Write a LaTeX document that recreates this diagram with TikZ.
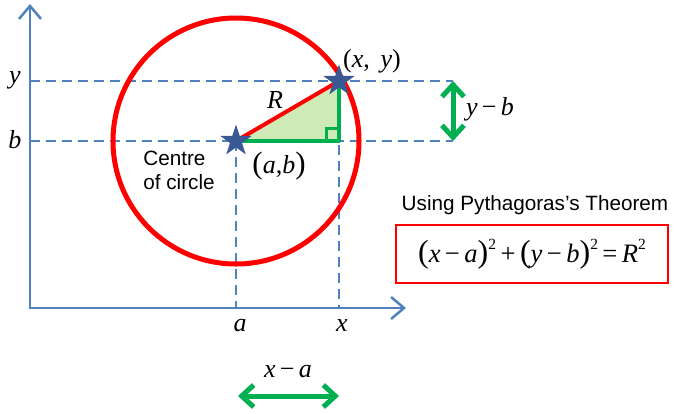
\documentclass[tikz,border=0pt]{standalone}
\usepackage{fontspec}
\setmainfont{Liberation Serif}
\setsansfont{Liberation Sans}
\usetikzlibrary{arrows.meta,shapes.geometric}
\definecolor{axisblue}{RGB}{79,129,189}
\definecolor{starblue}{RGB}{58,88,148}
\definecolor{grn}{RGB}{0,176,80}
\definecolor{lgrn}{RGB}{206,234,183}
\definecolor{cred}{RGB}{255,0,0}
\newcommand\myLP{{\fontsize{31}{31}\selectfont(}}
\newcommand\myRP{{\fontsize{31}{31}\selectfont)}}
\newcommand\fLP{{\fontsize{32}{32}\selectfont(}}
\newcommand\fRP{{\fontsize{32}{32}\selectfont)}}
\newcommand\fsq{\raisebox{0.5em}{\fontsize{15.5}{15.5}\selectfont 2}}
\begin{document}
\begin{tikzpicture}[x=1pt,y=-1pt,
  axis/.style={axisblue,line width=2.5pt,line join=miter,{Straight Barb[length=13pt,width=22pt]}-{Straight Barb[length=13pt,width=22pt]}},
  guide/.style={axisblue,line width=1.5pt,dash pattern=on 10pt off 6pt},
  gleg/.style={grn,line width=4pt},
  garrow/.style={grn,line width=5pt,{Straight Barb[length=12pt,width=22pt]}-{Straight Barb[length=12pt,width=22pt]}},
  ptstar/.style={star,star points=5,star point ratio=2.6,minimum size=33pt,fill=starblue,inner sep=0pt},
  lbl/.style={font=\fontsize{26}{26}\selectfont\itshape,inner sep=0pt},
  mlbl/.style={font=\fontsize{26}{26}\selectfont,inner sep=0pt},
  sans/.style={font=\fontsize{20.7}{24}\selectfont\sffamily,inner sep=0pt}
]
\useasboundingbox (0,0) rectangle (674,413);
% coordinates
\coordinate (O) at (30,308);
\coordinate (Ytop) at (30,4);
\coordinate (Xend) at (406,308);
\coordinate (A) at (236,141);
\coordinate (P) at (339,81);
\coordinate (C) at (339,141);
\coordinate (yl) at (30,81);
\coordinate (yr) at (453,81);
\coordinate (bl) at (30,141);
\coordinate (br) at (453,141);
\coordinate (aB) at (236,308);
\coordinate (xB) at (339,308);
\coordinate (sq1) at (326,141);
\coordinate (sq2) at (326,128);
\coordinate (sq3) at (339,128);
\coordinate (ha1) at (238,396);
\coordinate (ha2) at (339,396);
% guides
\draw[guide] (yl) -- (yr);
\draw[guide] (bl) -- (br);
\draw[guide] (A) -- (aB);
\draw[guide] (P) -- (xB);
% axes
\draw[axis] (Ytop) -- (O) -- (Xend);
% circle
\draw[cred,line width=5pt] (A) circle[radius=123pt];
% triangle
\fill[lgrn] (A) -- (C) -- (P) -- cycle;
\draw[gleg,line width=3pt] (sq1) -- (sq2) -- (sq3);
\draw[gleg,line join=round] (A) -- (C) -- (P);
\draw[cred,line width=4pt] (A) -- (P);
% stars
\node[ptstar] (sA) at (A) {};
\node[ptstar] (sP) at (P) {};
% green arrows
\draw[garrow] (yr) -- (br);
\draw[garrow] (ha1) -- (ha2);
% labels
\node[lbl] (ly) at (15,80) {y};
\node[lbl] (lb) at (15,140) {b};
\node[lbl] (la) at (240,326) {a};
\node[lbl] (lx) at (342,326) {x};
\node[lbl] (lR) at (275,100) {R};
\node[mlbl] (lxy) at (372,61) {(\textit{x},\, \textit{y})};
\node[mlbl] (lab) at (279,166) {\myLP\textit{a},\textit{b}\myRP};
\node[mlbl] (lyb) at (490,109) {\textit{y}\,−\,\textit{b}};
\node[mlbl] (lxa) at (288,372) {\textit{x}\,−\,\textit{a}};
\node[sans,align=left] (ctr) at (179,170) {Centre\\of circle};
\node[sans] (thm) at (535,205) {Using Pythagoras’s Theorem};
\node[draw=cred,line width=2.5pt,minimum width=272pt,minimum height=58pt,inner sep=0pt,
      font=\fontsize{26.6}{26.6}\selectfont] (box) at (532,254)
  {\fLP\textit{x}\,−\,\textit{a}\fRP\fsq\,+\,\fLP\textit{y}\,−\,\textit{b}\fRP\fsq\,=\,\textit{R}\fsq};
\end{tikzpicture}
\end{document}
